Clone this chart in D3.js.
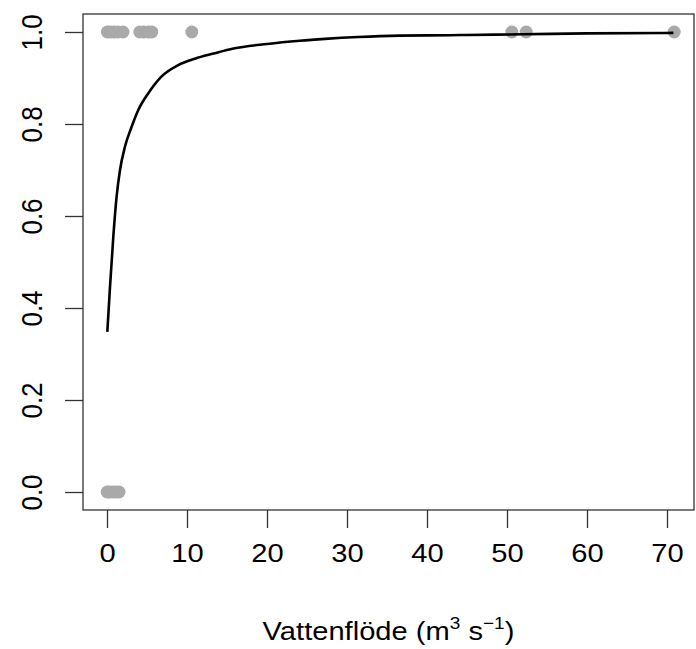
<!doctype html>
<html lang="sv">
  <head>
    <meta charset="UTF-8" />
    <title>Vattenflöde</title>
    <script src="https://d3js.org/d3.v7.min.js"></script>
    <style>
      body {
        margin: 0;
        background: #fff;
      }
      svg text {
        font-family: "Liberation Sans", Arial, sans-serif;
        fill: #000;
      }
    </style>
  </head>
  <body>
    <svg width="696" height="649"></svg>

    <script>
      // observations (flow, presence 0/1)
      const flowOne = [0.05, 0.4, 0.9, 1.3, 2.0, 4.1, 4.6, 5.2, 5.6, 10.6, 50.6, 52.4, 70.9];
      const flowZero = [0.02, 0.3, 0.7, 1.1, 1.5];

      // fitted curve
      const curveX = [0.04, 0.375, 0.79, 1.2, 1.625, 2.25, 3.08, 3.9, 5.17, 6.8, 8.9, 11, 13.3,
        15.8, 20, 24.1, 27.25, 31.4, 36.6, 42.9, 45, 52, 60, 70.8];
      const curveY = [0.348, 0.446, 0.555, 0.642, 0.7, 0.751, 0.794, 0.83, 0.867, 0.903, 0.928,
        0.942, 0.953, 0.964, 0.974, 0.981, 0.985, 0.989, 0.992, 0.993, 0.9935, 0.995, 0.997, 0.998];

      const xTicks = [0, 10, 20, 30, 40, 50, 60, 70];
      const yTicks = [0, 0.2, 0.4, 0.6, 0.8, 1.0];

      const svg = d3.select("svg");
      const box = { left: 83, right: 694, top: 14, bottom: 510 };
      const fontSize = 26;
      const stretch = 1.12; // text in the reference is drawn a bit wide

      const x = d3.scaleLinear().domain([-3, 73.375]).range([box.left, box.right]);
      const y = d3.scaleLinear().domain([-0.0391, 1.0391]).range([box.bottom, box.top]);

      const points = flowOne.map((f) => ({ f, p: 1 })).concat(flowZero.map((f) => ({ f, p: 0 })));

      svg.append("g")
        .selectAll("circle")
        .data(points)
        .join("circle")
        .attr("cx", (d) => x(d.f))
        .attr("cy", (d) => y(d.p))
        .attr("r", 6.5)
        .attr("fill", "#a9a9a9");

      const line = d3.line()
        .x((d, i) => x(curveX[i]))
        .y((d, i) => y(curveY[i]))
        .curve(d3.curveMonotoneX);

      svg.append("path")
        .attr("d", line(curveX))
        .attr("fill", "none")
        .attr("stroke", "#000")
        .attr("stroke-width", 2.6);

      // frame
      svg.append("rect")
        .attr("x", box.left)
        .attr("y", box.top)
        .attr("width", box.right - box.left)
        .attr("height", box.bottom - box.top)
        .attr("fill", "none")
        .attr("stroke", "#333")
        .attr("stroke-width", 1.3);

      // x axis
      const xAxis = svg.append("g")
        .attr("transform", `translate(0,${box.bottom})`)
        .call(d3.axisBottom(x).tickValues(xTicks).tickSize(18).tickFormat(d3.format("d")));
      xAxis.select(".domain").remove();
      xAxis.selectAll(".tick line").attr("stroke", "#333").attr("stroke-width", 1.3);
      xAxis.selectAll("text")
        .style("font-size", fontSize + "px")
        .attr("fill", "#000")
        .attr("y", 52)
        .attr("dy", null)
        .attr("transform", `scale(${stretch},1)`);

      // y axis, labels rotated like base R
      const yAxis = svg.append("g")
        .attr("transform", `translate(${box.left},0)`)
        .call(d3.axisLeft(y).tickValues(yTicks).tickSize(18).tickFormat(d3.format(".1f")));
      yAxis.select(".domain").remove();
      yAxis.selectAll(".tick line").attr("stroke", "#333").attr("stroke-width", 1.3);
      yAxis.selectAll("text")
        .style("font-size", fontSize + "px")
        .attr("fill", "#000")
        .attr("x", null)
        .attr("dy", null)
        .attr("text-anchor", "middle")
        .attr("transform", `translate(-41,0) scale(${stretch},1) rotate(-90)`);

      // axis title
      const title = svg.append("g")
        .attr("transform", `translate(${(box.left + box.right) / 2},640) scale(${stretch},1)`)
        .append("text")
        .attr("text-anchor", "middle")
        .style("font-size", fontSize + "px");
      title.append("tspan").text("Vattenflöde (m");
      title.append("tspan").attr("dy", -11).style("font-size", "17px").text("3");
      title.append("tspan").attr("dy", 11).text(" s");
      title.append("tspan").attr("dy", -11).style("font-size", "17px").text("\u22121");
      title.append("tspan").attr("dy", 11).text(")");
    </script>
  </body>
</html>
